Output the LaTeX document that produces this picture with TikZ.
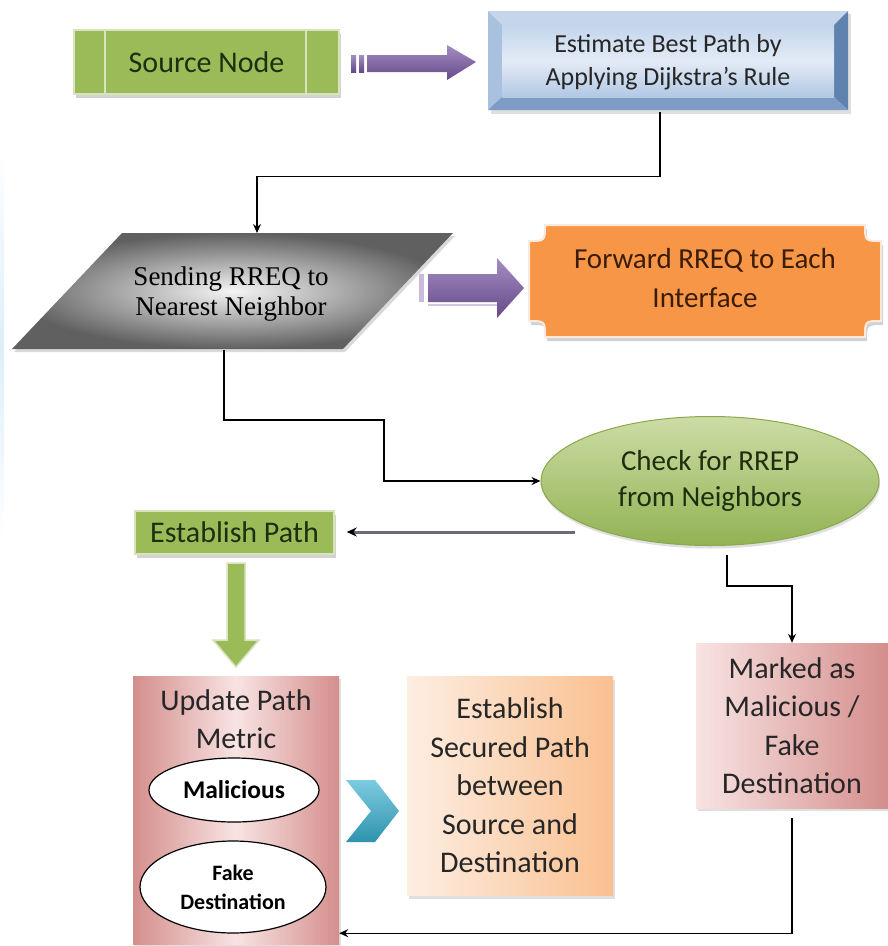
\documentclass[tikz,border=0pt]{standalone}
\usepackage{fontspec}
\setmainfont{Carlito}
\newfontfamily\tms{Liberation Serif}
\usetikzlibrary{arrows.meta,shapes.geometric,shadows,calc}
\definecolor{olive}{HTML}{9BBB59}
\definecolor{olivelt}{HTML}{D7E4BD}
\definecolor{olivetext}{HTML}{1E2F10}
\definecolor{purp}{HTML}{8064A2}
\definecolor{purplt}{HTML}{A48DC4}
\definecolor{purpdk}{HTML}{654A87}
\definecolor{orng}{HTML}{F79646}
\definecolor{cream}{HTML}{FDE9D9}
\definecolor{brown}{HTML}{3A1D08}
\definecolor{pinkdk}{HTML}{D48E8C}
\definecolor{pinklt}{HTML}{F8E4E3}
\definecolor{peach}{HTML}{FAC090}
\definecolor{peachlt}{HTML}{FDEEE2}
\definecolor{teal}{HTML}{4BACC6}
\definecolor{teallt}{HTML}{7CCBE0}
\definecolor{tealdk}{HTML}{2F93AE}
\definecolor{txt}{HTML}{262626}
\definecolor{graylink}{HTML}{6B6B78}
\definecolor{bvtop}{HTML}{C5D6EC}
\definecolor{bvleft}{HTML}{A9C0DE}
\definecolor{bvright}{HTML}{5F82AE}
\definecolor{bvbot}{HTML}{7E9CC6}
\definecolor{facetop}{HTML}{C3D5EC}
\definecolor{facebot}{HTML}{B2C8E4}
\definecolor{facemid}{HTML}{E3EBF6}
\definecolor{chktop}{HTML}{CCDDA6}
\definecolor{chkbot}{HTML}{92B252}
\definecolor{chkline}{HTML}{8AA84E}
\definecolor{stripc}{HTML}{DDEEFA}
\tikzset{
  conn/.style={draw=black, line width=1.3pt, -{Stealth[length=9pt,width=8pt]}},
  fnt/.style args={#1/#2}{font=\fontsize{#1}{#2}\selectfont, align=center},
  greenbox/.style={fill=olive, draw=olivelt, line width=1.5pt,
    drop shadow={shadow xshift=2pt, shadow yshift=-4pt, opacity=0.35, fill=gray}},
  pinkbox/.style={left color=pinkdk, right color=pinkdk, middle color=pinklt},
  oval/.style={ellipse, draw=black, line width=1.2pt, fill=white, inner sep=0pt},
}
\begin{document}
\begin{tikzpicture}[x=1pt,y=-1pt]
\useasboundingbox (0,0) rectangle (888,946);
\fill[white] (0,0) rectangle (888,946);
% faint strip at the left edge
\shade[top color=white, bottom color=white, middle color=stripc] (0,150) rectangle (4,540);

% ---------- Source node ----------
\node[greenbox, minimum width=265pt, minimum height=64pt, text=olivetext, fnt=30/34] (src) at (206.5,62) {Source Node};
\draw[olivelt, line width=2pt] (105,30) -- (105,94);
\draw[olivelt, line width=2pt] (306,30) -- (306,94);

% ---------- purple arrow 1 ----------
\shade[top color=purplt, bottom color=purpdk] (351,55) rectangle (356,72);
\shade[top color=purplt, bottom color=purpdk] (359,55) rectangle (364,72);
\shade[top color=purplt, bottom color=purpdk] (367,55) -- (447,55) -- (447,45) -- (476,62) -- (447,80) -- (447,72) -- (367,72) -- cycle;

% ---------- Estimate box (bevel) ----------
\fill[gray!25] (491,14) rectangle (851,114);
\fill[bvtop] (488,11) -- (848,11) -- (834,25) -- (502,25) -- cycle;
\fill[bvleft] (488,11) -- (502,25) -- (502,97) -- (488,110) -- cycle;
\fill[bvright] (848,11) -- (848,110) -- (834,97) -- (834,25) -- cycle;
\fill[bvbot] (488,110) -- (848,110) -- (834,97) -- (502,97) -- cycle;
\shade[top color=facetop, bottom color=facebot, middle color=facemid] (502,25) rectangle (834,97);
\node[minimum width=360pt, minimum height=99pt, text=txt, fnt=26/33] (est) at (668,62) {Estimate Best Path by\\Applying Dijkstra's Rule};

% ---------- parallelogram ----------
\fill[gray!30] (124,236) -- (455,236) -- (345,352) -- (14,352) -- cycle;
\shade[inner color=gray!8, outer color=gray!75!black] (122,233) -- (453,233) -- (343,349) -- (12,349) -- cycle;
\node[fnt=27/30, text=black] (para) at (231,294) {\tms Sending RREQ to\\\tms Nearest Neighbor};
\coordinate (paratop) at (257,233);
\coordinate (parabot) at (224,350);

% ---------- purple arrow 2 ----------
\fill[purplt!60] (419,274) rectangle (424,302);
\draw[purplt!50, line width=1.5pt] (428,305) -- (497,305);
\shade[top color=purplt, bottom color=purpdk] (428,274) -- (497,274) -- (497,258) -- (524,288) -- (497,318) -- (497,302) -- (428,302) -- cycle;

% ---------- Forward plaque ----------
\filldraw[fill=orng, draw=cream, line width=2pt,
  drop shadow={shadow xshift=2pt, shadow yshift=-4pt, opacity=0.35, fill=gray}]
  (545,225) -- (865,225) .. controls (865,241) .. (881,241) -- (881,321)
  .. controls (865,321) .. (865,337) -- (545,337) .. controls (545,321) .. (529,321)
  -- (529,241) .. controls (545,241) .. (545,225) -- cycle;
\node[text=brown, fnt=29/39] (fwd) at (705,278) {Forward RREQ to Each\\Interface};

% ---------- Check ellipse ----------
\node[ellipse, minimum width=338pt, minimum height=129pt, top color=chktop, bottom color=chkbot,
  draw=chkline, line width=1pt, text=olivetext, fnt=29/36,
  drop shadow={shadow xshift=1pt, shadow yshift=-3pt, opacity=0.25, fill=gray}] (chk) at (710,481) {Check for RREP\\from Neighbors};
\coordinate (chkout) at (575,532);
\coordinate (chkdown) at (727,555);

% ---------- Establish Path ----------
\node[greenbox, minimum width=199pt, minimum height=43pt, text=olivetext, fnt=30/34] (ep) at (234.5,532.5) {Establish Path};

% ---------- green down arrow ----------
\filldraw[fill=olive, draw=olivelt, line width=1.5pt] (227,563) -- (245,563) -- (245,640) -- (259,640) -- (236,667) -- (213,640) -- (227,640) -- cycle;

% ---------- Update Path Metric ----------
\node[pinkbox, minimum width=206pt, minimum height=268pt,
  drop shadow={shadow xshift=2pt, shadow yshift=-3pt, opacity=0.25, fill=gray}] (upd) at (236,810) {};
\node[text=txt, fnt=30/38] (updt) at (236,719) {Update Path\\Metric};
\node[oval, minimum width=170pt, minimum height=64pt, text=black, font=\fontsize{25.5}{28}\selectfont\bfseries] (mal) at (234,790) {Malicious};
\node[oval, minimum width=186pt, minimum height=92pt, text=black, font=\fontsize{22}{29}\selectfont\bfseries, align=center] (fake) at (233,887) {Fake\\Destination};

% ---------- chevron ----------
\shade[top color=teallt, bottom color=tealdk] (346,780) -- (375,780) -- (399,811) -- (375,842) -- (346,842) -- (371,811) -- cycle;

% ---------- Secured path ----------
\node[left color=peachlt, right color=peach, minimum width=206pt, minimum height=219pt,
  drop shadow={shadow xshift=2pt, shadow yshift=-4pt, opacity=0.25, fill=gray},
  text=txt, fnt=30/38.5] (sec) at (510,785.5) {Establish\\Secured Path\\between\\Source and\\Destination};

% ---------- Marked box ----------
\node[left color=pinklt, right color=pinkdk, minimum width=192pt, minimum height=165pt,
  drop shadow={shadow xshift=2pt, shadow yshift=-3pt, opacity=0.25, fill=gray},
  text=txt, fnt=30/38.5] (mk) at (792,725.5) {Marked as\\Malicious /\\Fake\\Destination};

% ---------- connectors ----------
\draw[conn] ([xshift=-8pt]est.south) -- ++(0,65) -| (paratop);
\draw[conn] (parabot) |- (384,420) |- (chk.west);
\draw[draw=graylink, line width=3pt, -{Stealth[length=10pt,width=9pt,color=black]}, shorten >=12pt] (chkout) -- (ep.east |- chkout);
\draw[conn] (chkdown) |- (mk.north |- 0,586) -- (mk.north);
\draw[conn] ([yshift=-10pt]mk.south) |- ([yshift=11pt]upd.south east);
\end{tikzpicture}
\end{document}
